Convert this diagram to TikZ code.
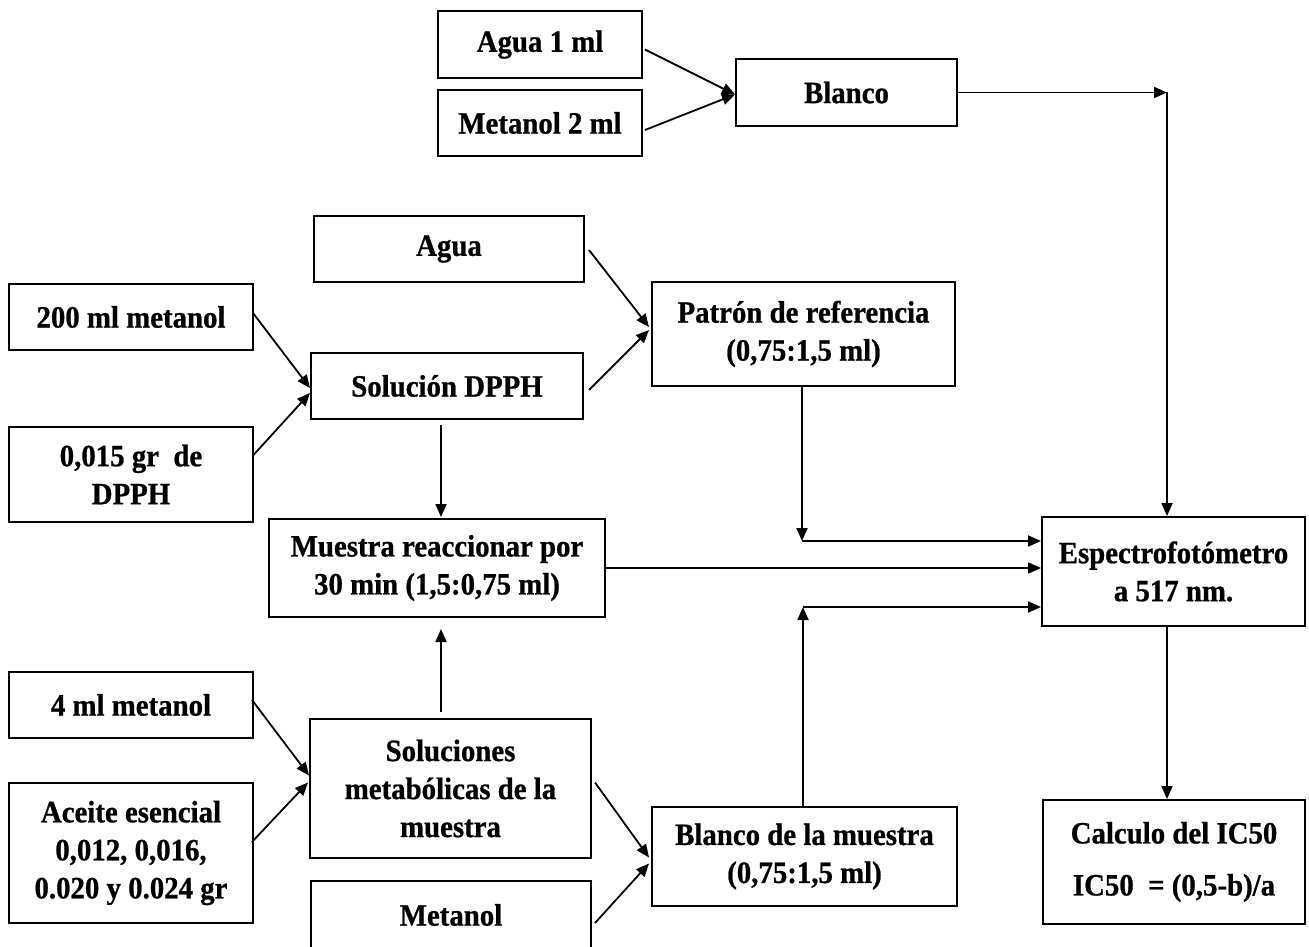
\documentclass[tikz,border=0pt]{standalone}
\usepackage{fontspec}
\setmainfont{Liberation Serif}
\newfontfamily\boxfont[FakeStretch=0.93,FakeBold=0.8]{Liberation Serif}
\usetikzlibrary{arrows.meta}
\tikzset{
  box/.style={draw, line width=2pt, inner sep=0pt, align=center,
    font=\boxfont\bfseries\fontsize{31}{38}\selectfont},
  arr/.style={line width=1.8pt, -{Triangle[length=13pt,width=11pt]}},
  ln/.style={line width=1.8pt}
}
\begin{document}
\begin{tikzpicture}[x=1pt,y=-1pt]
\useasboundingbox[fill=white] (0,0) rectangle (1309,947);
% top group
\node[box, minimum width=204pt, minimum height=67pt] (a1) at (540,44.5) {Agua 1 ml};
\node[box, minimum width=204pt, minimum height=66pt] (m2) at (540,123) {Metanol 2 ml};
\node[box, minimum width=221pt, minimum height=67pt] (bl) at (846.5,92.5) {Blanco};
% middle group
\node[box, minimum width=270pt, minimum height=66pt] (ag) at (449,249) {Agua};
\node[box, minimum width=244pt, minimum height=66pt] (m200) at (131,317) {200 ml metanol};
\node[box, minimum width=272pt, minimum height=66pt] (dpph) at (447,386) {Solución DPPH};
\node[box, minimum width=244pt, minimum height=95pt] (g015) at (131,474.5) {0,015 gr~ de\\DPPH};
\node[box, minimum width=303pt, minimum height=104pt] (pat) at (803.5,334) {Patrón de referencia\\(0,75:1,5 ml)};
\node[box, minimum width=336pt, minimum height=98pt] (mue) at (437,568) {Muestra reaccionar por\\30 min (1,5:0,75 ml)};
\node[box, minimum width=263pt, minimum height=109pt] (esp) at (1173.5,571.5) {Espectrofotómetro\\a 517 nm.};
% bottom group
\node[box, minimum width=244pt, minimum height=66pt] (m4) at (131,705) {4 ml metanol};
\node[box, minimum width=281pt, minimum height=139pt] (sol) at (450.5,788.5) {Soluciones\\metabólicas de la\\muestra};
\node[box, minimum width=244pt, minimum height=140pt] (ace) at (131,853) {Aceite esencial\\0,012, 0,016,\\0.020 y 0.024 gr};
\node[box, minimum width=280pt, minimum height=68pt] (met) at (451,915) {Metanol};
\node[box, minimum width=305pt, minimum height=99pt] (bm) at (804.5,856.5) {Blanco de la muestra\\(0,75:1,5 ml)};
\node[box, minimum width=262pt, minimum height=124pt] (calc) at (1174,862) {Calculo del IC50\\[14pt]IC50~ = (0,5-b)/a};
% corner coordinates
\coordinate (c1) at (1167,92.5);
\coordinate (c2) at (802,541);
\coordinate (c3) at (803,607);
% arrows top
\draw[arr] ([xshift=2pt,yshift=-5pt]a1.east) -- ([yshift=-2pt]bl.west);
\draw[arr] ([xshift=2pt,yshift=-7pt]m2.east) -- ([yshift=-2pt]bl.west);
\draw[arr] (bl.east) -- (c1);
\draw[arr] (c1) -- (c1 |- esp.north);
% middle
\draw[arr] ([xshift=4pt,yshift=-1pt]ag.east) -- ([xshift=-2pt,yshift=7pt]pat.west);
\draw[arr] ([xshift=5pt,yshift=-4pt]dpph.east) -- ([xshift=-2pt,yshift=4pt]pat.west);
\draw[arr] ([xshift=-1pt,yshift=4pt]m200.east) -- ([yshift=-2pt]dpph.west);
\draw[arr] ([xshift=-1pt,yshift=19pt]g015.east) -- ([yshift=-7pt]dpph.west);
\draw[arr, shorten <=5pt, shorten >=1pt] ([xshift=-6pt]dpph.south) -- ([xshift=-6pt]dpph.south |- mue.north);
\draw[arr] (mue.east) -- (mue.east -| esp.west);
\draw[arr] (pat.south -| c2) -- (c2);
\draw[arr] (c2) -- (c2 -| esp.west);
\draw[arr] (bm.north -| c3) -- (c3);
\draw[arr] (c3) -- (c3 -| esp.west);
\draw[arr] (esp.south -| c1) -- (calc.north -| c1);
% bottom
\draw[arr, shorten <=6pt, shorten >=11pt] ([xshift=-9.5pt]sol.north) -- ([xshift=-9.5pt]sol.north |- mue.south);
\draw[arr] ([xshift=-2pt,yshift=5pt]m4.east) -- ([yshift=13pt]sol.west);
\draw[arr] ([xshift=-2pt,yshift=11pt]ace.east) -- ([xshift=-1pt,yshift=6pt]sol.west);
\draw[arr] ([xshift=3pt,yshift=6pt]sol.east) -- ([xshift=-2pt,yshift=-1pt]bm.west);
\draw[arr] ([xshift=3pt,yshift=-8pt]met.east) -- ([xshift=-2pt,yshift=-7pt]bm.west);
\end{tikzpicture}
\end{document}
